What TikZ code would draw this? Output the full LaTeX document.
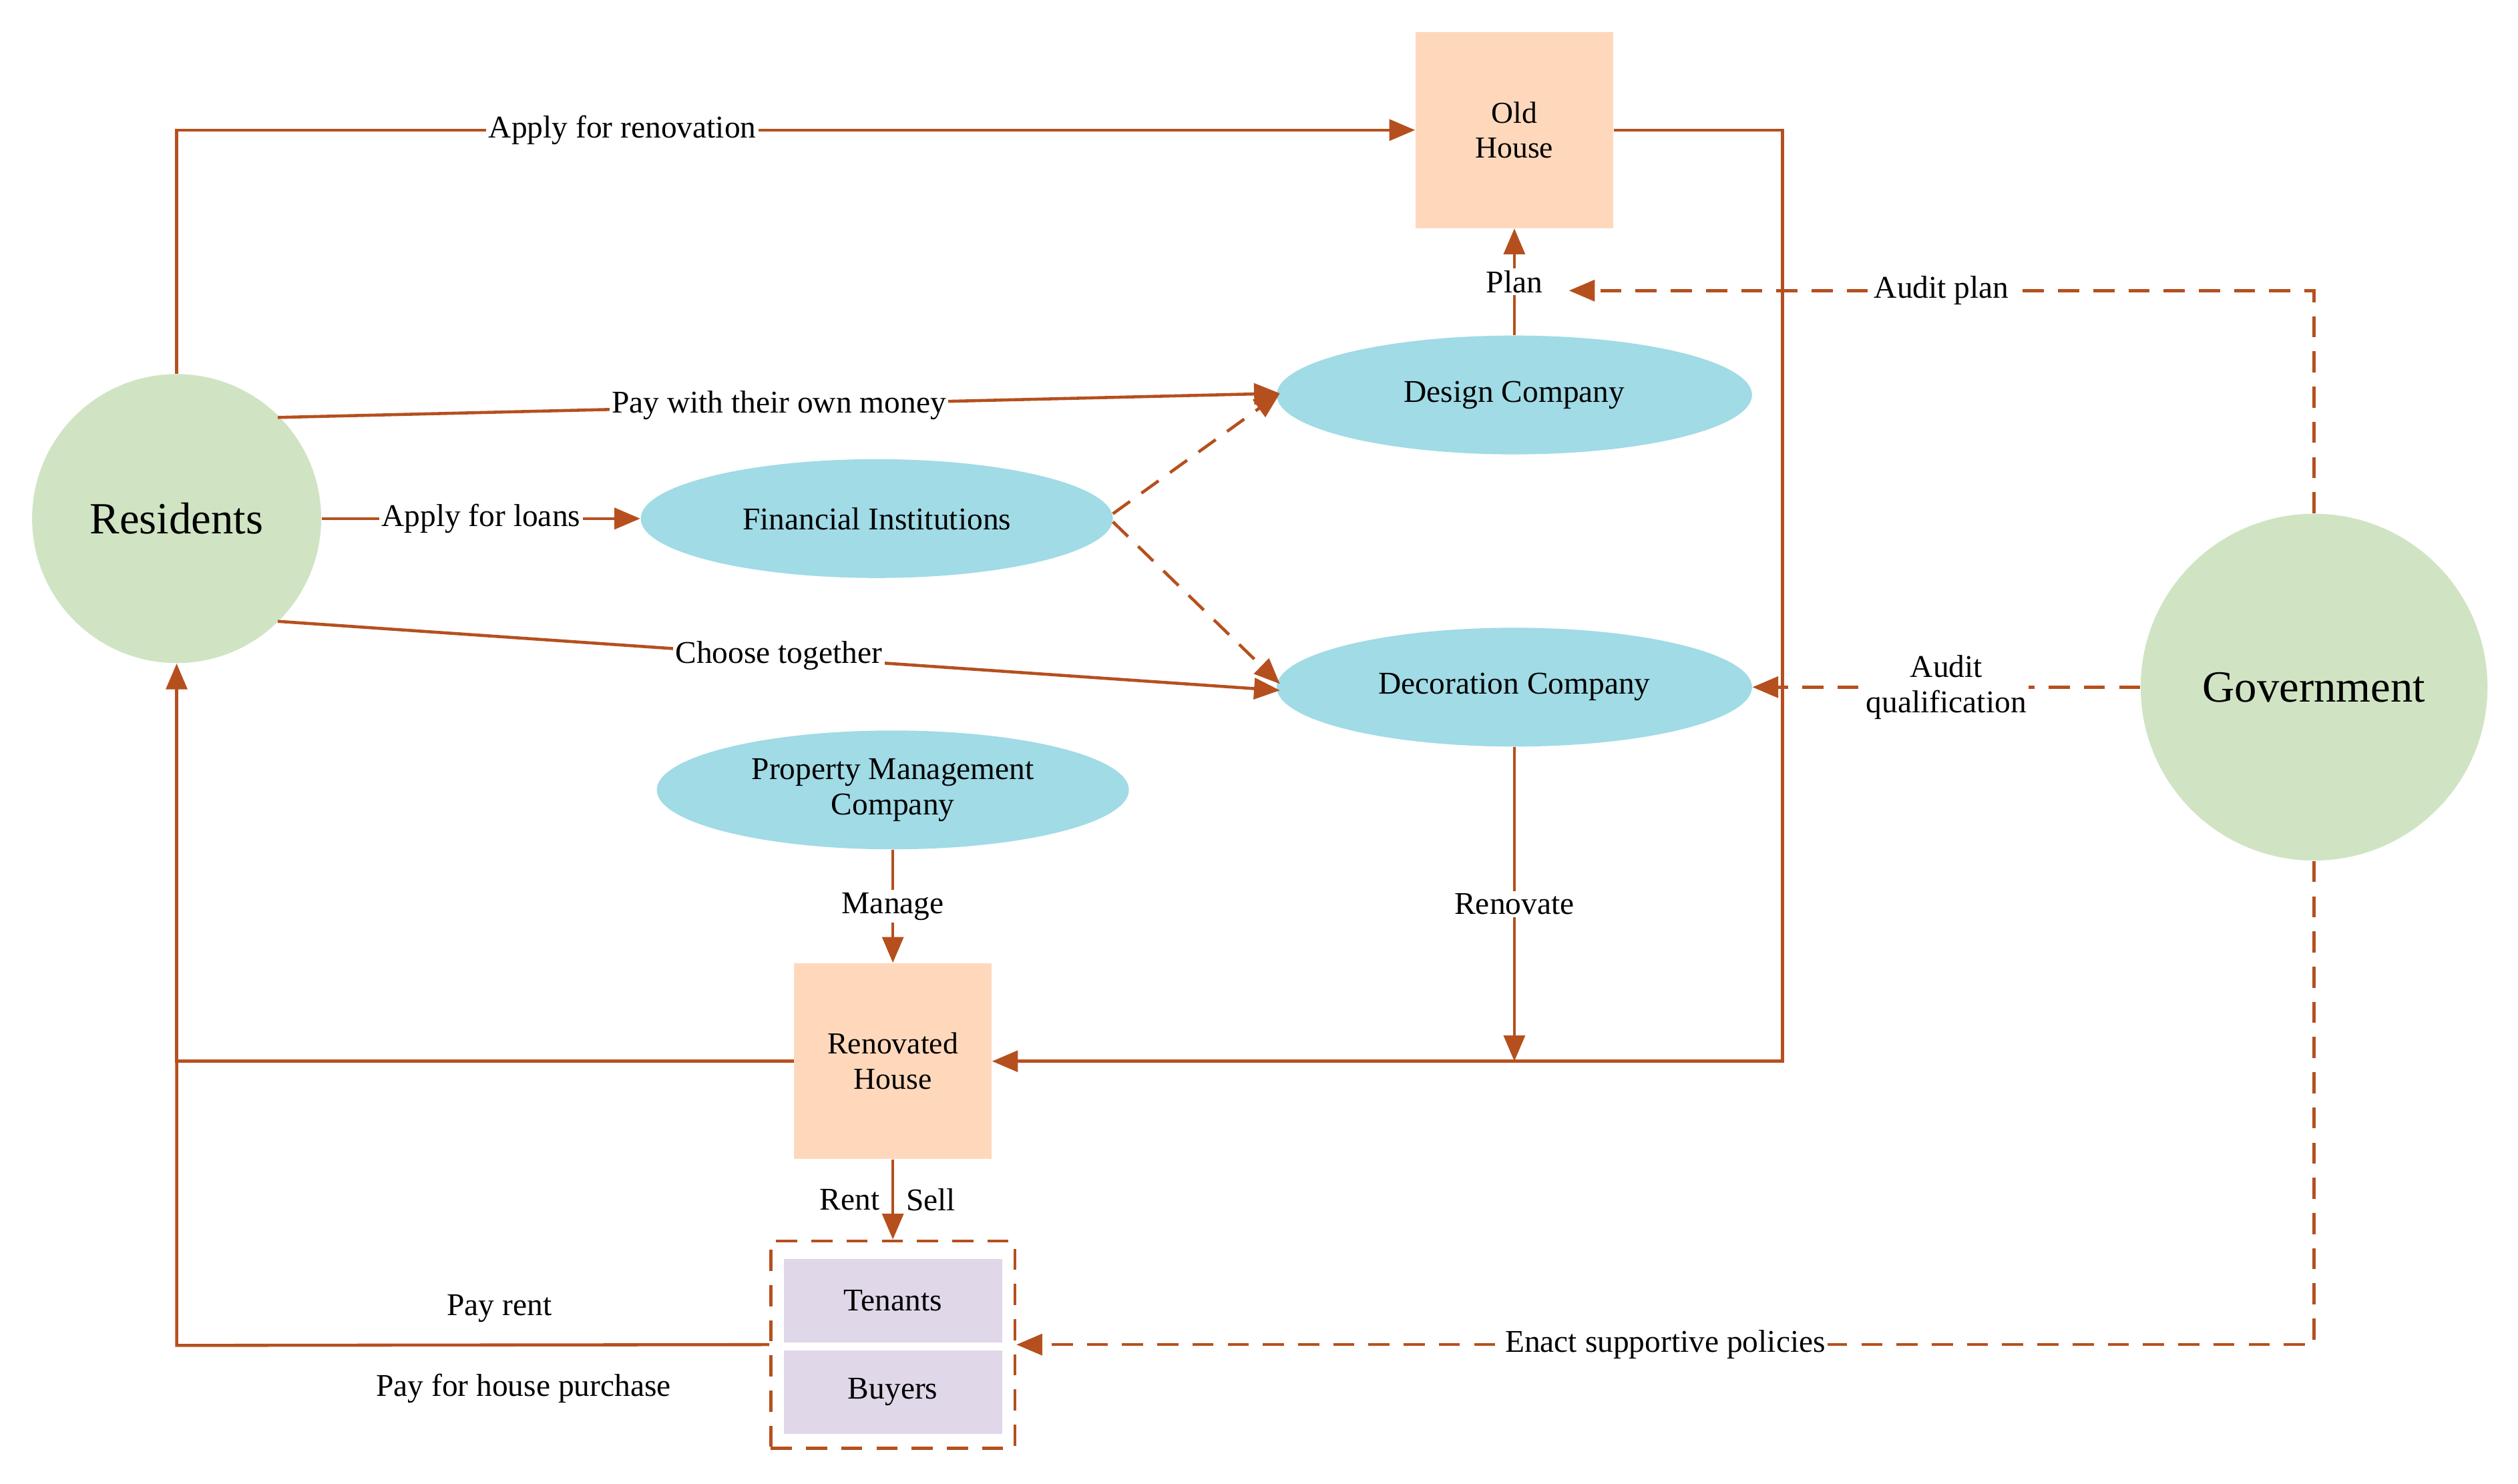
\documentclass[tikz,border=0pt]{standalone}
\usepackage{fontspec}
\setmainfont{Liberation Serif}
\usetikzlibrary{shapes.geometric,arrows.meta}
\definecolor{ec}{HTML}{B5501E}
\definecolor{cg}{HTML}{D0E4C4}
\definecolor{cb}{HTML}{A0DBE6}
\definecolor{co}{HTML}{FFD8BC}
\definecolor{cp}{HTML}{E0D7E9}
\begin{document}
\begin{tikzpicture}[x=0.02405cm,y=-0.02405cm,
 e/.style={draw=ec,line width=1.3pt,-{Triangle[length=11pt,width=9pt]}},
 ne/.style={draw=ec,line width=1.3pt},
 d/.style={dash pattern=on 9pt off 6pt},
 lab/.style={fill=white,inner sep=1pt,font=\fontsize{13.5}{15}\selectfont,align=center},
 circ/.style={circle,fill=cg,font=\fontsize{19}{22}\selectfont},
 ell/.style={ellipse,fill=cb,minimum width=296\pgflinewidth,font=\fontsize{13.5}{15}\selectfont,align=center},
 box/.style={fill=co,font=\fontsize{13}{15}\selectfont,align=center}]
\useasboundingbox (0,0) rectangle (1568,924);
\node[circ,minimum size=180*0.02405cm] (res) at (110,323) {Residents};
\node[circ,minimum size=216*0.02405cm] (gov) at (1441,428) {Government};
\node[box,minimum width=123*0.02405cm,minimum height=122*0.02405cm] (old) at (943,81) {Old\\House};
\node[box,minimum width=123*0.02405cm,minimum height=122*0.02405cm] (ren) at (556,661) {Renovated\\House};
\node[ell,minimum width=296*0.02405cm,minimum height=74*0.02405cm] (des) at (943,246) {Design Company};
\node[ell,minimum width=294*0.02405cm,minimum height=74*0.02405cm] (fin) at (546,323) {Financial Institutions};
\node[ell,minimum width=296*0.02405cm,minimum height=74*0.02405cm] (dec) at (943,428) {Decoration Company};
\node[ell,minimum width=294*0.02405cm,minimum height=74*0.02405cm] (pm) at (556,492) {Property Management\\Company};
\node[draw=ec,line width=1.3pt,d,minimum width=152*0.02405cm,minimum height=129*0.02405cm] (cl) at (556,837.5) {};
\node[fill=cp,minimum width=136*0.02405cm,minimum height=52*0.02405cm,font=\fontsize{13.5}{15}\selectfont] (ten) at (556,810) {Tenants};
\node[fill=cp,minimum width=136*0.02405cm,minimum height=52*0.02405cm,font=\fontsize{13.5}{15}\selectfont] (buy) at (556,867) {Buyers};
\coordinate (plan) at (977,181);
\coordinate (renend) at (943,661);
% edges
\draw[e] (res.north) |- node[lab,pos=0.68]{Apply for renovation} (old.west);
\draw[e] (old.east) -- (1110,81) -- (1110,661) -- (ren.east);
\draw[e] (des.north) -- node[lab]{Plan} (old.south);
\draw[e] (173,260) -- node[lab]{Pay with their own money} (797,245);
\draw[e] (res.east) -- node[lab]{Apply for loans} (fin.west);
\draw[e,d] (693,320) -- (797,245);
\draw[e,d] (693,325) -- (797,426);
\draw[e] (173,387) -- node[lab]{Choose together} (797,430);
\draw[e,d] (gov.north) |- node[lab,pos=0.75]{Audit plan} (plan);
\draw[e,d] (gov.west) -- node[lab]{Audit\\qualification} (dec.east);
\draw[e] (dec.south) -- node[lab]{Renovate} (renend);
\draw[e] (pm.south) -- node[lab]{Manage} (ren.north);
\draw[e] (ren.south) -- node[lab,left,fill=none,xshift=-4pt]{Rent} node[lab,right,fill=none,xshift=4pt]{Sell} (cl.north);
\draw[e] (ren.west) -- (110,661) -- (res.south);
\draw[ne] (cl.west) -- (110,838) -- (110,661);
\node[lab,fill=none] at (311,815) {Pay rent};
\node[lab,fill=none] at (326,865) {Pay for house purchase};
\draw[e,d] (gov.south) |- node[lab,pos=0.75]{Enact supportive policies} (cl.east);
\end{tikzpicture}
\end{document}
